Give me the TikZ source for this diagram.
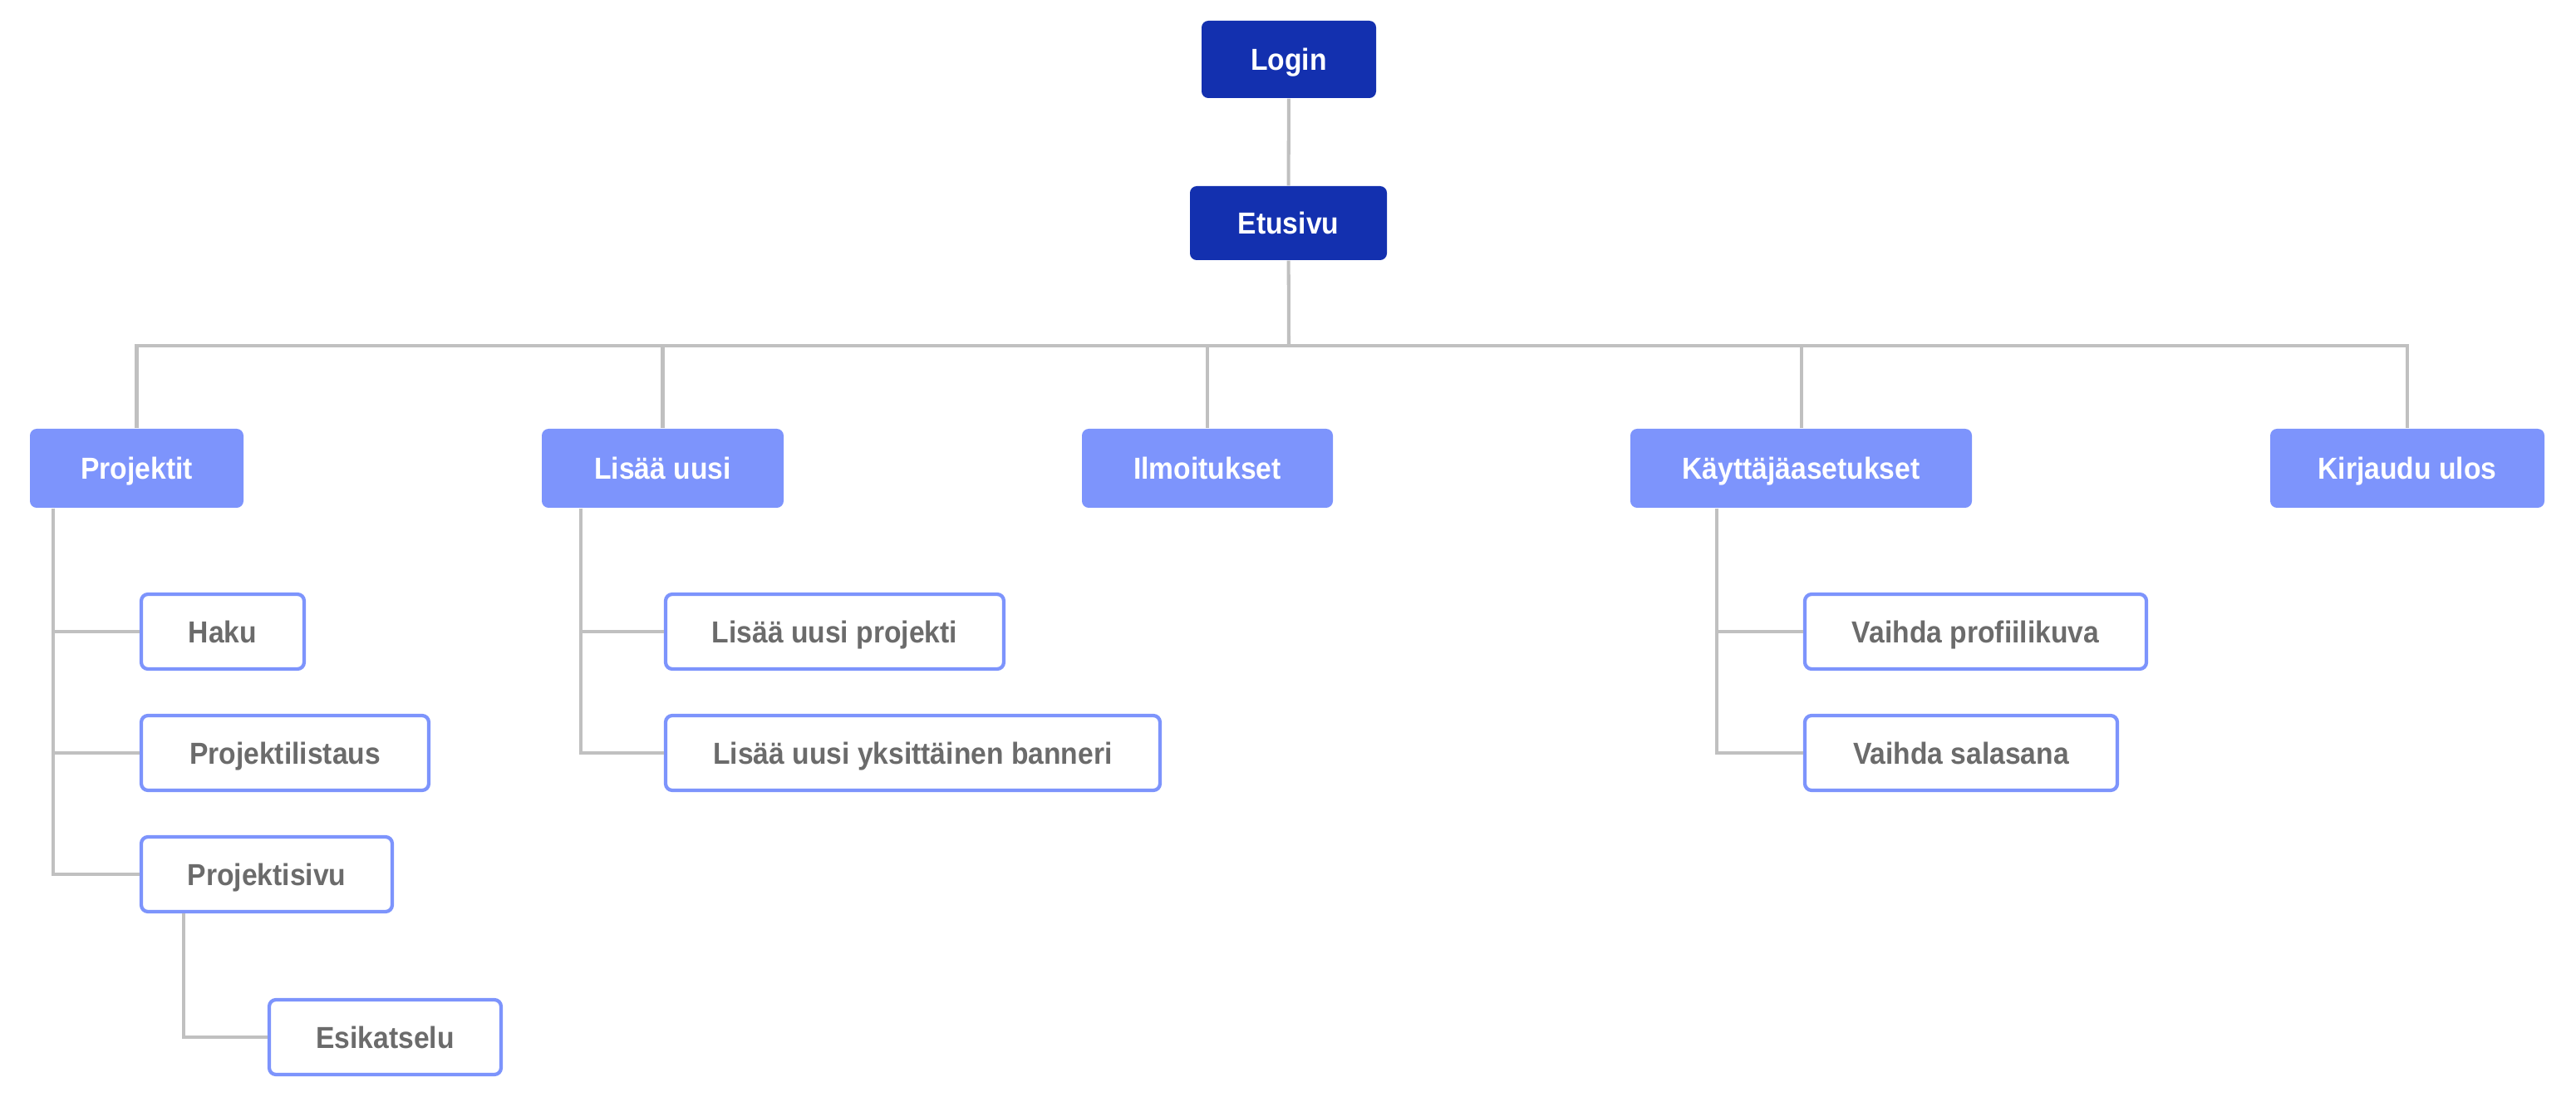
\documentclass[tikz,border=0pt]{standalone}
\usepackage{fontspec}
\setmainfont[FakeStretch=0.92]{Liberation Sans}
\usepackage{tikz}
\usetikzlibrary{positioning}
\definecolor{darkblue}{HTML}{1330AF}
\definecolor{lightblue}{HTML}{7D94FC}
\definecolor{textgray}{HTML}{6B6B6B}
\definecolor{linegray}{HTML}{C0C0C0}

\begin{document}
\begin{tikzpicture}[root/.style={rectangle,rounded corners=2.3pt,fill=darkblue,text=white,minimum height=0.93cm,inner sep=0pt,text height=7.4pt,text depth=0pt,font=\bfseries\fontsize{10.4}{12}\selectfont},
	section/.style={root,fill=lightblue,minimum height=0.95cm},
	page/.style={rectangle,rounded corners=2.3pt,draw=lightblue,line width=1.2pt,fill=white,text=textgray,minimum height=0.9cm,inner sep=0pt,text height=7.4pt,text depth=0pt,font=\bfseries\fontsize{10.4}{12}\selectfont},
	link/.style={draw=linegray,line width=1.15pt}]
	 \useasboundingbox (0,0) rectangle (31,-13.2);

	 \node at (15.51,-0.715) [root,minimum width=2.1cm] (login) {Login};
	 \node at (15.505,-2.685) [root,minimum width=2.37cm,minimum height=0.89cm] (etusivu) {Etusivu};
	 \coordinate (bus) at (15.51,-4.16);

	 \node at (1.645,-5.635) [section,minimum width=2.57cm] (projektit) {Projektit};
	 \node at (7.975,-5.635) [section,minimum width=2.91cm] (lisaa) {Lisää uusi};
	 \node at (14.53,-5.635) [section,minimum width=3.02cm] (ilmoitukset) {Ilmoitukset};
	 \node at (21.675,-5.635) [section,minimum width=4.11cm] (kayttaja) {Käyttäjäasetukset};
	 \node at (28.97,-5.635) [section,minimum width=3.30cm] (kirjaudu) {Kirjaudu ulos};

	 \node at (2.68,-7.60) [page,minimum width=1.96cm] (haku) {Haku};
	 \node at (3.43,-9.06) [page,minimum width=3.46cm] (projlistaus) {Projektilistaus};
	 \node at (3.21,-10.52) [page,minimum width=3.02cm] (projsivu) {Projektisivu};
	 \node at (4.635,-12.48) [page,minimum width=2.79cm] (esikatselu) {Esikatselu};
	 \node at (10.045,-7.60) [page,minimum width=4.07cm] (uusiprojekti) {Lisää uusi projekti};
	 \node at (10.985,-9.06) [page,minimum width=5.95cm] (uusibanneri) {Lisää uusi yksittäinen banneri};
	 \node at (23.775,-7.60) [page,minimum width=4.11cm] (profiilikuva) {Vaihda profiilikuva};
	 \node at (23.60,-9.06) [page,minimum width=3.76cm] (salasana) {Vaihda salasana};

	 \draw[link] (login) -- (etusivu);
	 \draw[link] (etusivu) -- (bus);
	 \draw[link] (bus) -| (projektit.north);
	 \draw[link] (bus) -| (lisaa.north);
	 \draw[link] (bus) -| (ilmoitukset.north);
	 \draw[link] (bus) -| (kayttaja.north);
	 \draw[link] (bus) -| (kirjaudu.north);

	 \draw[link] ([xshift=0.29cm]projektit.south west) |- (haku.west);
	 \draw[link] ([xshift=0.29cm]projektit.south west) |- (projlistaus.west);
	 \draw[link] ([xshift=0.29cm]projektit.south west) |- (projsivu.west);
	 \draw[link] ([xshift=0.53cm]projsivu.south west) |- (esikatselu.west);
	 \draw[link] ([xshift=0.48cm]lisaa.south west) |- (uusiprojekti.west);
	 \draw[link] ([xshift=0.48cm]lisaa.south west) |- (uusibanneri.west);
	 \draw[link] ([xshift=1.05cm]kayttaja.south west) |- (profiilikuva.west);
	 \draw[link] ([xshift=1.05cm]kayttaja.south west) |- (salasana.west);

\end{tikzpicture}
\end{document}
